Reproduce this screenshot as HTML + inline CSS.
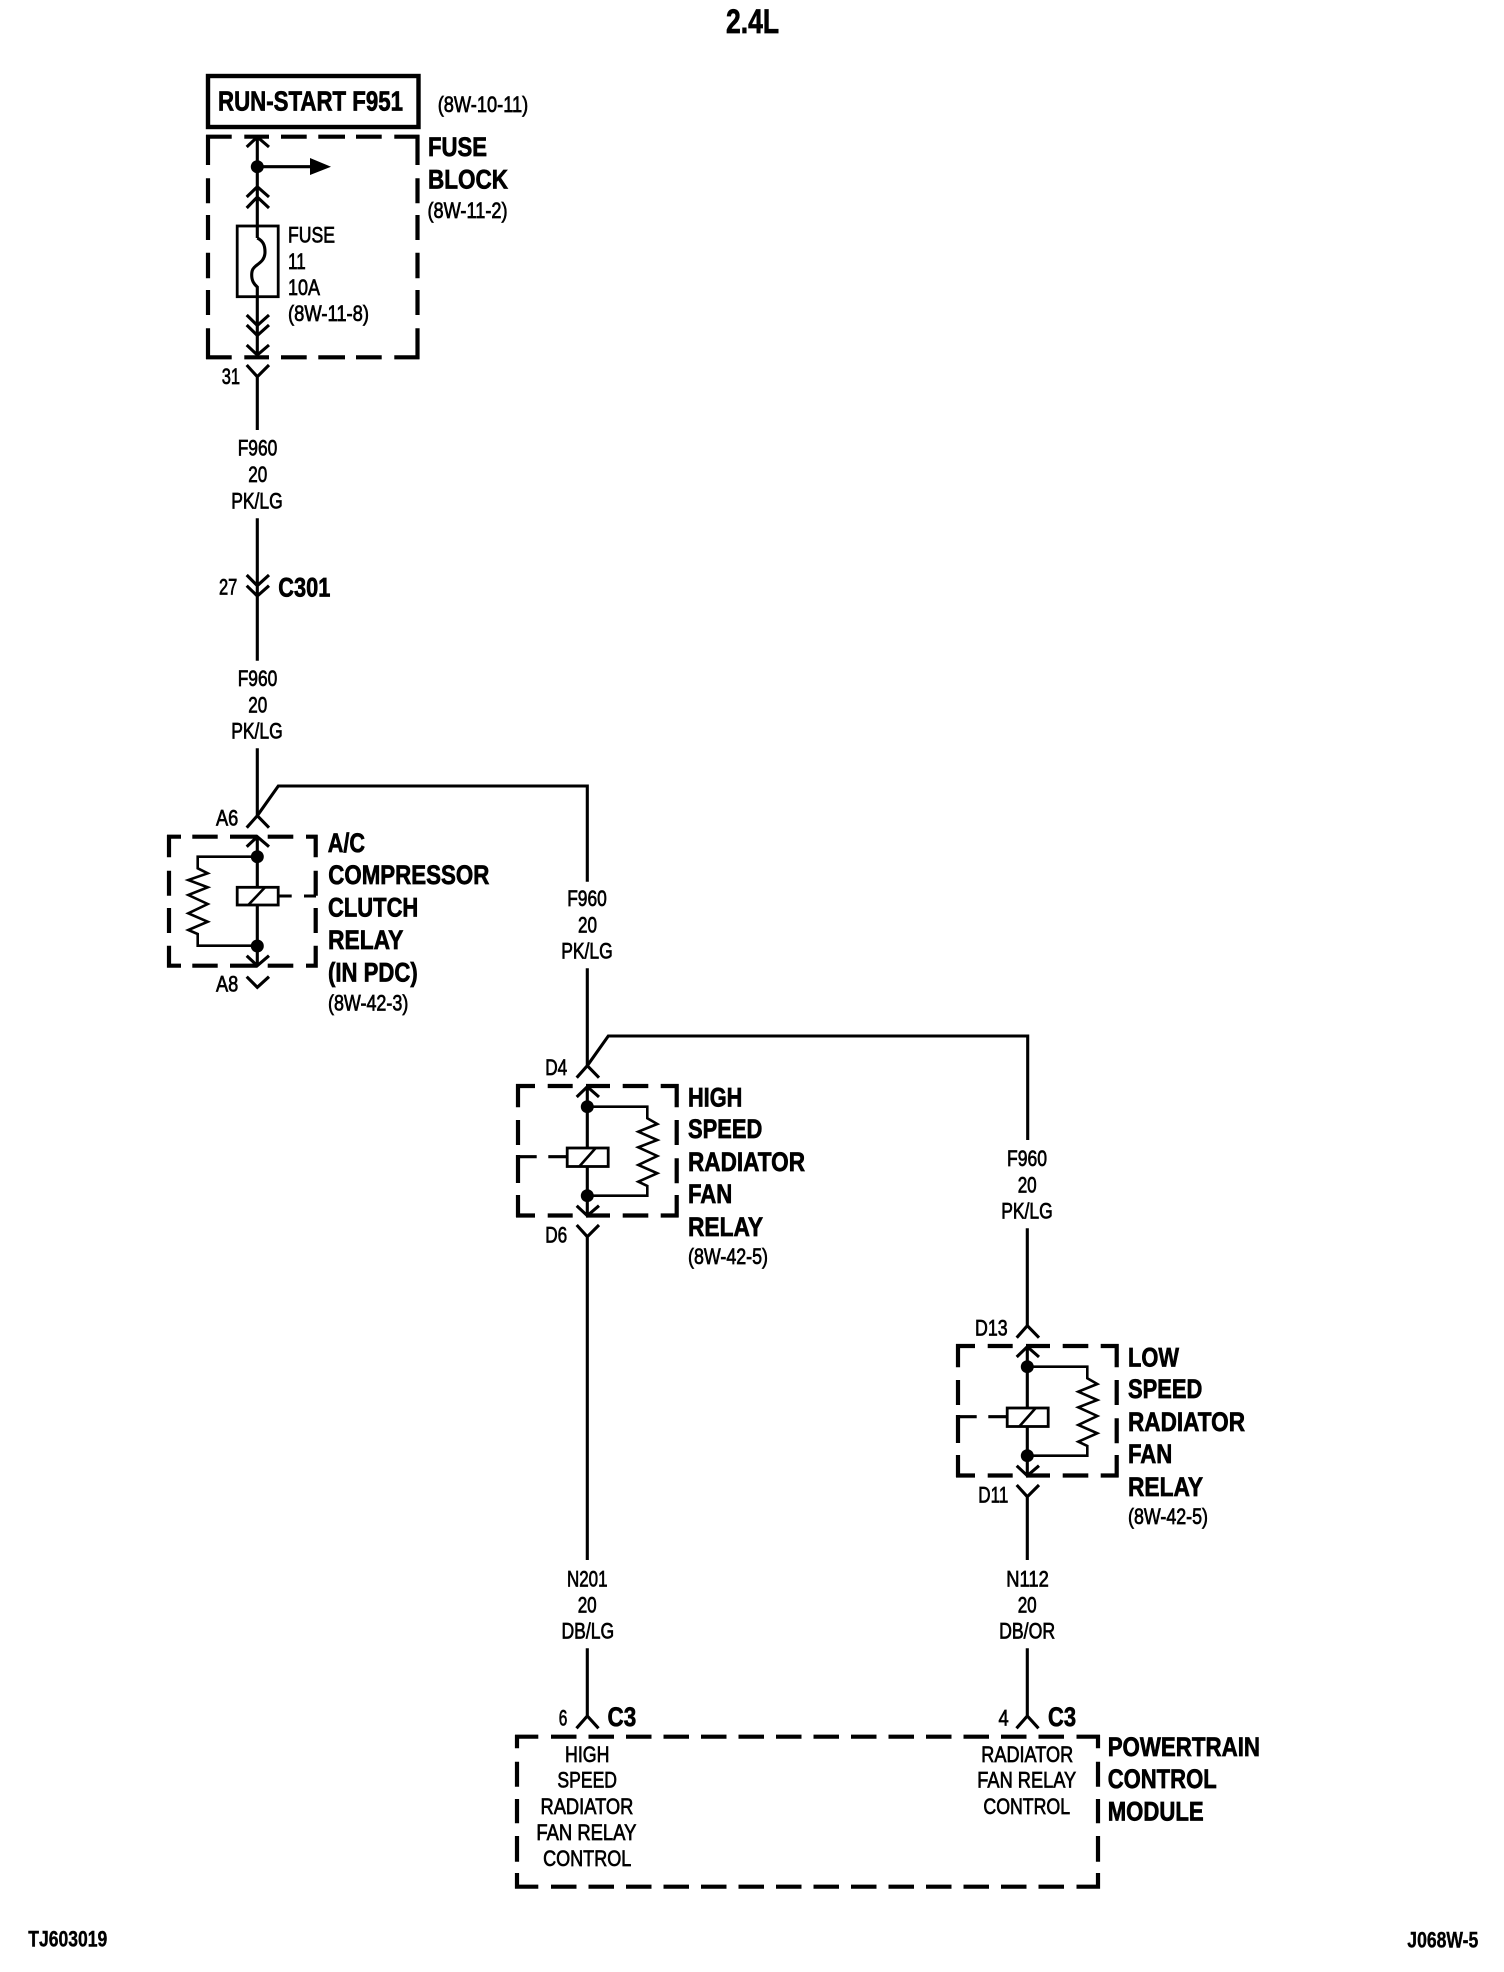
<!DOCTYPE html>
<html lang="en">
<head>
<meta charset="utf-8">
<title>2.4L</title>
<style>
html,body{margin:0;padding:0;background:#fff;width:1504px;height:1972px;overflow:hidden}
svg{display:block}
text{font-family:"Liberation Sans",Arial,sans-serif;fill:#000}
.b{font-size:27px;font-weight:bold;stroke:#000;stroke-width:.7}
.s{font-size:22px;stroke:#000;stroke-width:.7}
.w{fill:none;stroke:#000;stroke-width:3.1}
.t{fill:none;stroke:#000;stroke-width:2.6}
.d{fill:none;stroke:#000;stroke-width:4.2}
</style>
</head>
<body>
<svg xmlns="http://www.w3.org/2000/svg" width="1504" height="1972" viewBox="0 0 1504 1972">
<rect width="1504" height="1972" fill="#fff"/>

<!-- Title and footer -->
<text class="b" style="font-size:34px" x="726" y="33" textLength="53" lengthAdjust="spacingAndGlyphs">2.4L</text>
<text class="s" style="font-weight:bold;stroke-width:.4" x="28.3" y="1946.7" textLength="79" lengthAdjust="spacingAndGlyphs">TJ603019</text>
<text class="s" style="font-weight:bold;stroke-width:.4" x="1407.3" y="1947.3" textLength="71" lengthAdjust="spacingAndGlyphs">J068W-5</text>

<!-- RUN-START -->
<rect x="208" y="76" width="210.5" height="51" fill="none" stroke="#000" stroke-width="4.4"/>
<text class="b" style="font-size:28px" x="218" y="110.7" textLength="185" lengthAdjust="spacingAndGlyphs">RUN-START F951</text>
<text class="s" x="437.7" y="112.2" textLength="90.5" lengthAdjust="spacingAndGlyphs">(8W-10-11)</text>

<!-- Fuse block -->
<path class="d" d="M206 136.7H231.7M244.3 136.7H269M281 136.7H306.7M318.3 136.7H345M356 136.7H381.7M394.3 136.7H419.5
M206 357.3H231.7M244.3 357.3H269M281 357.3H306.7M318.3 357.3H345M356 357.3H381.7M394.3 357.3H419.5
M208 135V165M208 178.3V203.3M208 215V240M208 252.7V278.3M208 290V315M208 328.3V359
M417.5 135V165M417.5 178.3V203.3M417.5 215V240M417.5 252.7V278.3M417.5 290V315M417.5 328.3V359"/>
<path class="w" d="M246.7 147L257.3 137L269 147M257.3 137V238M246.7 197L257.3 186.7L269 197M246.7 208L257.3 197L269 208"/>
<circle cx="257.3" cy="166.7" r="6.5"/>
<path class="w" d="M257.3 166.7H312"/>
<path d="M310 158L331 166.7L310 175Z"/>
<rect x="237.2" y="226" width="41" height="70.7" fill="none" stroke="#000" stroke-width="2.8"/>
<path class="w" d="M257.3 238C263 241 265 245 265 252C265 259 261 262 257 265C253 268 251.7 270 251.7 275C251.7 281 254 284 257.3 287V355"/>
<path class="w" d="M246.7 315L257.3 325.5L269 315M246.7 325L257.3 335.5L269 325M246.7 345L257.3 355L269 345M246.7 365L257.3 376.7L269 365M257.3 376.7V430"/>
<text class="b" x="428" y="156" textLength="59" lengthAdjust="spacingAndGlyphs">FUSE</text>
<text class="b" x="428" y="188.5" textLength="80" lengthAdjust="spacingAndGlyphs">BLOCK</text>
<text class="s" x="427.5" y="218" textLength="80" lengthAdjust="spacingAndGlyphs">(8W-11-2)</text>
<text class="s" x="288" y="242.3" textLength="47" lengthAdjust="spacingAndGlyphs">FUSE</text>
<text class="s" x="288" y="269" textLength="17.7" lengthAdjust="spacingAndGlyphs">11</text>
<text class="s" x="288" y="295" textLength="32" lengthAdjust="spacingAndGlyphs">10A</text>
<text class="s" x="288" y="321" textLength="81" lengthAdjust="spacingAndGlyphs">(8W-11-8)</text>
<text class="s" x="221.7" y="384" textLength="18.3" lengthAdjust="spacingAndGlyphs">31</text>

<!-- First wire -->
<text class="s" x="237.7" y="455.7" textLength="39.6" lengthAdjust="spacingAndGlyphs">F960</text>
<text class="s" x="248.3" y="482" textLength="19" lengthAdjust="spacingAndGlyphs">20</text>
<text class="s" x="231.2" y="508.3" textLength="51.6" lengthAdjust="spacingAndGlyphs">PK/LG</text>
<path class="w" d="M257.3 518.3V660.7M246.7 575L257.3 585.7L269 575M246.7 585.7L257.3 596L269 585.7"/>
<text class="s" x="219" y="594.3" textLength="18.3" lengthAdjust="spacingAndGlyphs">27</text>
<text class="b" x="278.3" y="596.7" textLength="52" lengthAdjust="spacingAndGlyphs">C301</text>
<text class="s" x="237.7" y="686" textLength="39.6" lengthAdjust="spacingAndGlyphs">F960</text>
<text class="s" x="248.3" y="712.4" textLength="19" lengthAdjust="spacingAndGlyphs">20</text>
<text class="s" x="231.2" y="738.7" textLength="51.6" lengthAdjust="spacingAndGlyphs">PK/LG</text>
<path class="w" d="M257.3 748.3V815.7M246.7 827.7L257.3 815.7L269 827.7M257.3 815.7L278.3 786H587.3V881.7"/>
<text class="s" x="216" y="825.7" textLength="22.3" lengthAdjust="spacingAndGlyphs">A6</text>

<!-- A/C relay -->
<path class="d" d="M167 836.7H181M192.3 836.7H217.7M230 836.7H257M267.7 836.7H293.3M306 836.7H317.7
M167 965.7H181M192.3 965.7H217.7M230 965.7H257M267.7 965.7H293.3M306 965.7H317.7
M169 835V857.3M169 870.7V895.7M169 908V933M169 945.7V967.7
M315.7 835V857.3M315.7 870.7V895.7M315.7 908V933M315.7 945.7V967.7"/>
<path class="w" d="M246.7 846.7L257.3 836.7L269 846.7M257.3 836.7V887M257.3 905V965.7M246.7 955.7L257.3 965.7L269 955.7M246.7 976.7L257.3 987.3L269 976.7M278 896H291.7M304 896H316"/>
<rect x="237.2" y="887.3" width="41" height="17.7" fill="none" stroke="#000" stroke-width="2.8"/>
<path class="t" d="M248.3 905L265 887.3"/>
<circle cx="257.3" cy="856.7" r="6.5"/><circle cx="257.3" cy="946" r="6.5"/>
<path class="t" d="M257.3 856.7H197.7V868.3L207.7 873.3L188.3 880L207.7 887.3L188.3 895L207.7 904L188.3 913.3L207.7 921.7L188.3 930L197.7 934V945.7H257.3"/>
<text class="s" x="216" y="991.7" textLength="22.3" lengthAdjust="spacingAndGlyphs">A8</text>
<text class="b" x="327.7" y="852" textLength="37.3" lengthAdjust="spacingAndGlyphs">A/C</text>
<text class="b" x="328.3" y="884" textLength="161" lengthAdjust="spacingAndGlyphs">COMPRESSOR</text>
<text class="b" x="328" y="916.5" textLength="90.3" lengthAdjust="spacingAndGlyphs">CLUTCH</text>
<text class="b" x="328" y="949" textLength="75.3" lengthAdjust="spacingAndGlyphs">RELAY</text>
<text class="b" x="328" y="981.7" textLength="89.7" lengthAdjust="spacingAndGlyphs">(IN PDC)</text>
<text class="s" x="328" y="1010.7" textLength="80.3" lengthAdjust="spacingAndGlyphs">(8W-42-3)</text>

<!-- Second wire -->
<text class="s" x="567.2" y="906" textLength="39.6" lengthAdjust="spacingAndGlyphs">F960</text>
<text class="s" x="578" y="932.4" textLength="19" lengthAdjust="spacingAndGlyphs">20</text>
<text class="s" x="561.2" y="958.3" textLength="51.6" lengthAdjust="spacingAndGlyphs">PK/LG</text>
<path class="w" d="M587.3 968.3V1065.7M576.7 1077.7L587.3 1065.7L599 1077.7M587.3 1065.7L608.3 1036H1027.7V1140"/>
<text class="s" x="545.2" y="1075" textLength="22" lengthAdjust="spacingAndGlyphs">D4</text>

<!-- High speed relay -->
<path class="d" d="M516 1086H535M547.7 1086H572.7M586 1086H610M622.7 1086H648.3M660.7 1086H678.7
M516 1215.5H535M547.7 1215.5H572.7M586 1215.5H610M622.7 1215.5H648.3M660.7 1215.5H678.7
M518 1084V1107.3M518 1120V1145M518 1155V1183M518 1195V1217
M676.7 1084V1107.3M676.7 1120V1145M676.7 1158.3V1183.3M676.7 1195V1217"/>
<path class="w" d="M576.7 1097L587.3 1086.7L599 1097M587.3 1086.7V1148M587.3 1165.7V1215.7M576.7 1205.7L587.3 1215.7L599 1205.7M576.7 1225L587.3 1236.7L599 1225M587.3 1236.7V1560M516 1156.7H536.7M548.3 1156.7H566.7"/>
<rect x="567.2" y="1148" width="41" height="18.5" fill="none" stroke="#000" stroke-width="2.8"/>
<path class="t" d="M579.3 1166.5L595.7 1148"/>
<circle cx="587.3" cy="1106.7" r="6.5"/><circle cx="587.3" cy="1195.7" r="6.5"/>
<path class="t" d="M587.3 1106.7H647.3V1118.3L657.3 1124L638.3 1131.7L657.3 1140L638.3 1147.3L657.3 1156L638.3 1165L657.3 1173.3L638.3 1181.7L647.3 1186V1195.7H587.3"/>
<text class="s" x="545.2" y="1242.3" textLength="22" lengthAdjust="spacingAndGlyphs">D6</text>
<text class="b" x="688" y="1106.5" textLength="54.3" lengthAdjust="spacingAndGlyphs">HIGH</text>
<text class="b" x="688" y="1138" textLength="74.3" lengthAdjust="spacingAndGlyphs">SPEED</text>
<text class="b" x="688" y="1171" textLength="117" lengthAdjust="spacingAndGlyphs">RADIATOR</text>
<text class="b" x="688" y="1203" textLength="44.3" lengthAdjust="spacingAndGlyphs">FAN</text>
<text class="b" x="688" y="1236" textLength="75" lengthAdjust="spacingAndGlyphs">RELAY</text>
<text class="s" x="688" y="1264" textLength="80" lengthAdjust="spacingAndGlyphs">(8W-42-5)</text>

<!-- Third wire label -->
<text class="s" x="1007" y="1166" textLength="40" lengthAdjust="spacingAndGlyphs">F960</text>
<text class="s" x="1017.7" y="1192.3" textLength="19" lengthAdjust="spacingAndGlyphs">20</text>
<text class="s" x="1001.2" y="1218.3" textLength="51.6" lengthAdjust="spacingAndGlyphs">PK/LG</text>
<path class="w" d="M1027.3 1228.3V1325.7M1016.7 1337.7L1027.3 1325.7L1039 1337.7"/>
<text class="s" x="975" y="1335.7" textLength="32.6" lengthAdjust="spacingAndGlyphs">D13</text>

<!-- Low speed relay -->
<g transform="translate(440 260)">
<path class="d" d="M516 1086H535M547.7 1086H572.7M586 1086H610M622.7 1086H648.3M660.7 1086H678.7
M516 1215.5H535M547.7 1215.5H572.7M586 1215.5H610M622.7 1215.5H648.3M660.7 1215.5H678.7
M518 1084V1107.3M518 1120V1145M518 1155V1183M518 1195V1217
M676.7 1084V1107.3M676.7 1120V1145M676.7 1158.3V1183.3M676.7 1195V1217"/>
<path class="w" d="M576.7 1097L587.3 1086.7L599 1097M587.3 1086.7V1148M587.3 1165.7V1215.7M576.7 1205.7L587.3 1215.7L599 1205.7M576.7 1225L587.3 1236.7L599 1225M587.3 1236.7V1300M516 1156.7H536.7M548.3 1156.7H566.7"/>
<rect x="567.2" y="1148" width="41" height="18.5" fill="none" stroke="#000" stroke-width="2.8"/>
<path class="t" d="M579.3 1166.5L595.7 1148"/>
<circle cx="587.3" cy="1106.7" r="6.5"/><circle cx="587.3" cy="1195.7" r="6.5"/>
<path class="t" d="M587.3 1106.7H647.3V1118.3L657.3 1124L638.3 1131.7L657.3 1140L638.3 1147.3L657.3 1156L638.3 1165L657.3 1173.3L638.3 1181.7L647.3 1186V1195.7H587.3"/>
</g>
<text class="s" x="978.3" y="1502.3" textLength="30" lengthAdjust="spacingAndGlyphs">D11</text>
<text class="b" x="1128" y="1366.5" textLength="51" lengthAdjust="spacingAndGlyphs">LOW</text>
<text class="b" x="1128" y="1398" textLength="74.3" lengthAdjust="spacingAndGlyphs">SPEED</text>
<text class="b" x="1128" y="1431" textLength="117" lengthAdjust="spacingAndGlyphs">RADIATOR</text>
<text class="b" x="1128" y="1463" textLength="44.3" lengthAdjust="spacingAndGlyphs">FAN</text>
<text class="b" x="1128" y="1496" textLength="75" lengthAdjust="spacingAndGlyphs">RELAY</text>
<text class="s" x="1128" y="1524" textLength="80" lengthAdjust="spacingAndGlyphs">(8W-42-5)</text>

<!-- Lower wire labels -->
<text class="s" x="567" y="1586.7" textLength="40.5" lengthAdjust="spacingAndGlyphs">N201</text>
<text class="s" x="577.7" y="1612.3" textLength="19" lengthAdjust="spacingAndGlyphs">20</text>
<text class="s" x="561.5" y="1638.3" textLength="52.6" lengthAdjust="spacingAndGlyphs">DB/LG</text>
<text class="s" x="1006.3" y="1586.7" textLength="42.5" lengthAdjust="spacingAndGlyphs">N112</text>
<text class="s" x="1017.7" y="1612.3" textLength="19" lengthAdjust="spacingAndGlyphs">20</text>
<text class="s" x="999.1" y="1638.3" textLength="56" lengthAdjust="spacingAndGlyphs">DB/OR</text>
<path class="w" d="M587.3 1648.3V1716M576.5 1728.3L587.3 1716L598.5 1728.3M1027.3 1648.3V1716M1016.5 1728.3L1027.3 1716L1038.5 1728.3"/>
<text class="s" x="558.7" y="1725.7" textLength="8.6" lengthAdjust="spacingAndGlyphs">6</text>
<text class="b" x="607.5" y="1726" textLength="28.7" lengthAdjust="spacingAndGlyphs">C3</text>
<text class="s" x="998.5" y="1725.7" textLength="10.2" lengthAdjust="spacingAndGlyphs">4</text>
<text class="b" x="1048" y="1726" textLength="28" lengthAdjust="spacingAndGlyphs">C3</text>

<!-- PCM -->
<path class="d" d="M515 1736.7H538.3M515 1886.7H538.3M1076.5 1736.7H1100M1076.5 1886.7H1100
M517 1735V1748.3M517 1761.7V1786.7M517 1799V1823.3M517 1836V1861.7M517 1873V1888.7
M1098 1735V1748.3M1098 1761.7V1786.7M1098 1799V1823.3M1098 1836V1861.7M1098 1873V1888.7"/>
<path class="d" stroke-dasharray="25.5 12" d="M551 1736.7H1064M551 1886.7H1064"/>
<text class="s" x="565" y="1762" textLength="44.4" lengthAdjust="spacingAndGlyphs">HIGH</text>
<text class="s" x="557.4" y="1787.7" textLength="59.6" lengthAdjust="spacingAndGlyphs">SPEED</text>
<text class="s" x="540.5" y="1814" textLength="92.9" lengthAdjust="spacingAndGlyphs">RADIATOR</text>
<text class="s" x="536.4" y="1840" textLength="100" lengthAdjust="spacingAndGlyphs">FAN RELAY</text>
<text class="s" x="543.1" y="1866" textLength="88.2" lengthAdjust="spacingAndGlyphs">CONTROL</text>
<text class="s" x="981.3" y="1762" textLength="91.9" lengthAdjust="spacingAndGlyphs">RADIATOR</text>
<text class="s" x="977.3" y="1787.7" textLength="98.9" lengthAdjust="spacingAndGlyphs">FAN RELAY</text>
<text class="s" x="983.4" y="1814" textLength="86.7" lengthAdjust="spacingAndGlyphs">CONTROL</text>
<text class="b" x="1107.7" y="1756.2" textLength="152.3" lengthAdjust="spacingAndGlyphs">POWERTRAIN</text>
<text class="b" x="1107.7" y="1788" textLength="109" lengthAdjust="spacingAndGlyphs">CONTROL</text>
<text class="b" x="1107.7" y="1820.5" textLength="96" lengthAdjust="spacingAndGlyphs">MODULE</text>
</svg>
</body>
</html>
